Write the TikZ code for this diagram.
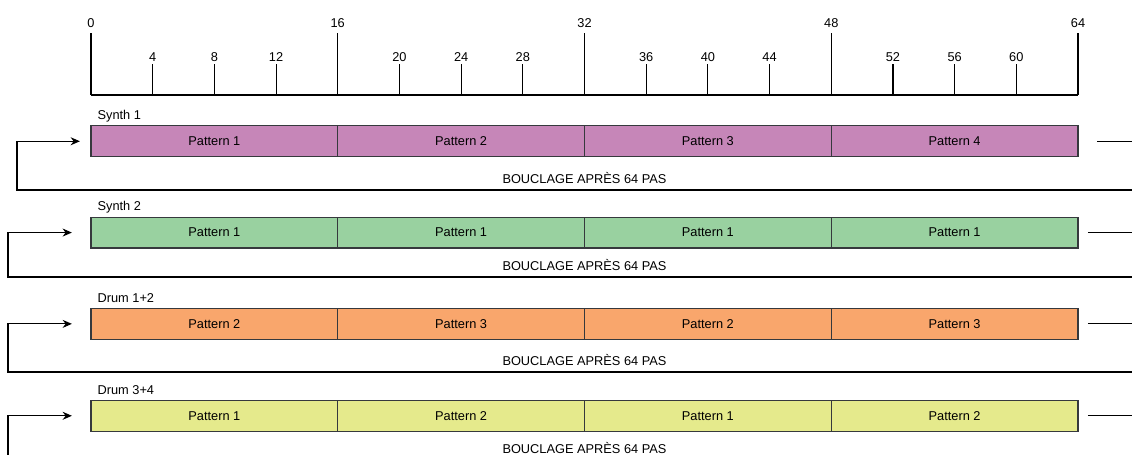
\documentclass[tikz,border=0pt]{standalone}
\usepackage{fontspec}
\setmainfont{Liberation Sans}
\usetikzlibrary{arrows.meta,positioning}
\definecolor{synthpink}{HTML}{C686B8}
\definecolor{synthgreen}{HTML}{99D1A0}
\definecolor{drumorange}{HTML}{F9A66C}
\definecolor{drumyellow}{HTML}{E5EA8C}
\definecolor{barline}{HTML}{36393D}

\begin{document}
\begin{tikzpicture}[
  patt/.style={draw=barline,line width=0.5pt,minimum width=4cm,minimum height=0.5cm,inner sep=0pt,outer sep=0pt},
  tick/.style={line width=0.5pt},
  rulerlab/.style={font=\fontsize{5.9}{7}\selectfont},
  loopline/.style={line width=0.5pt,-{Stealth[length=1.5mm,width=1.3mm]}},
  every node/.style={font=\fontsize{5.9}{7}\selectfont}]
  \useasboundingbox (-1.475,1.54) rectangle (16.875,-5.82);
  \clip (-1.475,1.54) rectangle (16.875,-5.82);
  % ruler
  \draw[tick] (0,0) -- (16,0);
  \foreach \s in {0,16,32,48,64}
    \draw[tick] (\s/4,0) -- (\s/4,1) node[above,rulerlab,inner sep=2.3pt] (t\s) {\s};
  \foreach \s in {4,8,12,20,24,28,36,40,44,52,56,60}
    \draw[tick] (\s/4,0) -- (\s/4,0.5) node[above,rulerlab,inner sep=1pt] (t\s) {\s};
  % tracks
  \foreach \row/\lab/\pa/\pb/\pc/\pd/\col/\y/\drop/\lx/\tip/\stub in {
      1/Synth 1/1/2/3/4/synthpink/-0.75/0.79/-1.2/0.18cm/0.31cm,
      2/Synth 2/1/1/1/1/synthgreen/-2.23/0.72/-1.345/0.31cm/0.16cm,
      3/Drum 1+2/2/3/2/3/drumorange/-3.71/0.78/-1.345/0.31cm/0.16cm,
      4/Drum 3+4/1/2/1/2/drumyellow/-5.20/0.72/-1.345/0.31cm/0.16cm}
  {
    \node[patt,fill=\col,anchor=west] (r\row-1) at (0,\y) {Pattern \pa};
    \node[patt,fill=\col,right=0pt of r\row-1] (r\row-2) {Pattern \pb};
    \node[patt,fill=\col,right=0pt of r\row-2] (r\row-3) {Pattern \pc};
    \node[patt,fill=\col,right=0pt of r\row-3] (r\row-4) {Pattern \pd};
    \node[above right=0.1cm and 0.1cm of r\row-1.north west,anchor=base west,inner sep=0pt] (l\row) {\lab};
    % loop back
    \coordinate[right=\stub of r\row-4.east] (s\row);
    \coordinate (b\row) at (\lx,\y-\drop);
    \draw[loopline,shorten >=\tip] (s\row) -- ++(1.5,0) |- (b\row) |- (r\row-1.west);
    \node[anchor=south,inner sep=2pt] (c\row) at (8,\y-\drop+0.03) {BOUCLAGE APRÈS 64 PAS};
  }
\end{tikzpicture}
\end{document}
